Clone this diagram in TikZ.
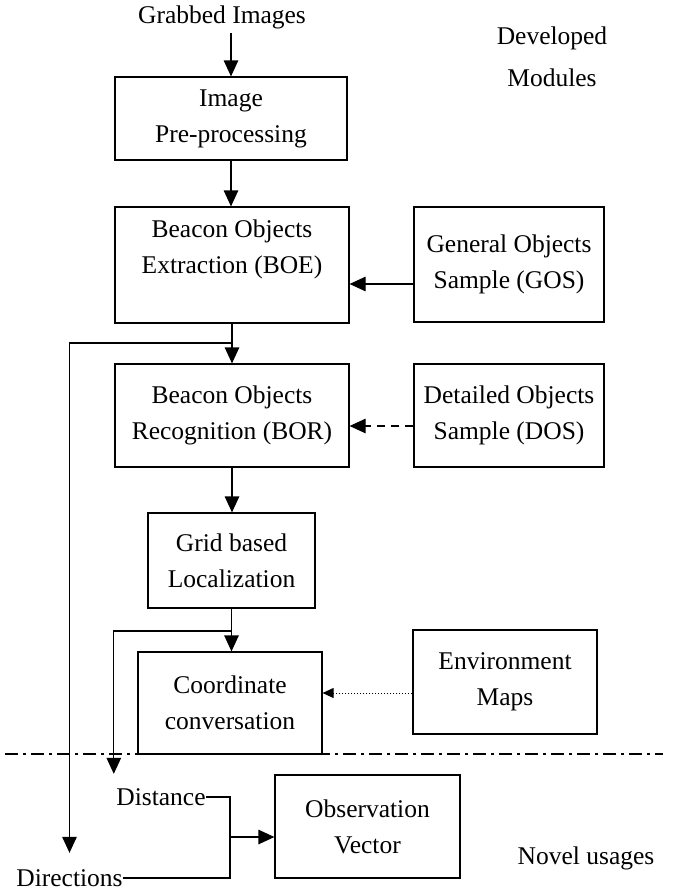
\documentclass[tikz,border=0pt]{standalone}
\usepackage{fontspec}
\setmainfont{Liberation Serif}
\usetikzlibrary{arrows.meta}

\begin{document}
\begin{tikzpicture}[x=1pt,y=-1pt,line width=1.2pt,
		>={Triangle[length=16pt,width=14.5pt]},
		every node/.style={font=\fontsize{25.5}{36}\selectfont},
		box/.style={draw,align=center,inner sep=0pt},
		txt/.style={inner sep=0pt,align=center}]
		\useasboundingbox (0,0) rectangle (683,892);
		% texts
		\node[txt] (grab) at (222,17) {Grabbed Images};
		\node[txt] (dev) at (552,57) {Developed\\[6pt]Modules};
		\node[txt] (novel) at (586,858) {Novel usages};
		\node[txt] (dist) at (161,797) {Distance};
		\node[txt] (dirs) at (69.5,878) {Directions};
		% boxes
		\node[box,minimum width=232pt,minimum height=83pt] (pre) at (231,118.5) {Image\\Pre-processing};
		\node[box,minimum width=234pt,minimum height=116pt,label={[txt,yshift=15.5pt]center:{Beacon Objects\\Extraction (BOE)}}] (boe) at (232,265) {};
		\node[box,minimum width=190pt,minimum height=115pt] (gos) at (509,264.5) {General Objects\\Sample (GOS)};
		\node[box,minimum width=234pt,minimum height=103pt] (bor) at (232,415.5) {Beacon Objects\\Recognition (BOR)};
		\node[box,minimum width=190pt,minimum height=103pt] (dos) at (509,415.5) {Detailed Objects\\Sample (DOS)};
		\node[box,minimum width=167pt,minimum height=95pt] (grid) at (231.5,560.5) {Grid based\\Localization};
		\node[box,minimum width=184pt,minimum height=102pt] (coord) at (230,703) {Coordinate\\conversation};
		\node[box,minimum width=184pt,minimum height=104pt] (env) at (505,682) {Environment\\Maps};
		\node[box,minimum width=185pt,minimum height=103pt] (obs) at (367.5,826.5) {Observation\\Vector};
		% connectors
		\coordinate (split1) at (232,343);
		\coordinate (split2) at (232,631);
		\coordinate (merge) at (230,837);
		\draw[->] ([yshift=-4pt]grab.south -| pre.north) -- (pre.north);
		\draw[->] (pre.south) -- (pre.south |- boe.north);
		\draw[->] ([yshift=-19.5pt]gos.west) -- ([yshift=-19.5pt]gos.west -| boe.east);
		\draw[->] (boe.south) -- (boe.south |- bor.north);
		\draw[->] (split1) -| ([yshift=16pt]dirs.north);
		\draw[->,dash pattern=on 8pt off 6pt] ([yshift=-10.5pt]dos.west) -- ([yshift=-10.5pt]dos.west -| bor.east);
		\draw[->] (bor.south) -- (bor.south |- grid.north);
		\draw[->] (grid.south) -- (grid.south |- coord.north);
		\draw[->] (split2) -| ([xshift=-2pt,yshift=14pt]dist.north west);
		\draw[-{Triangle[length=11pt,width=10pt]},line width=1pt,dotted] ([yshift=-11pt]env.west) -- ([yshift=-11pt]env.west -| coord.east);
		\draw[dash pattern=on 13pt off 5pt on 3pt off 5pt] (5,754) -- (663,754);
		\draw (dist.east) -| (merge);
		\draw (dirs.east) -| (merge);
		\draw[->] (merge) -- (merge -| obs.west);
	\end{tikzpicture}
\end{document}
